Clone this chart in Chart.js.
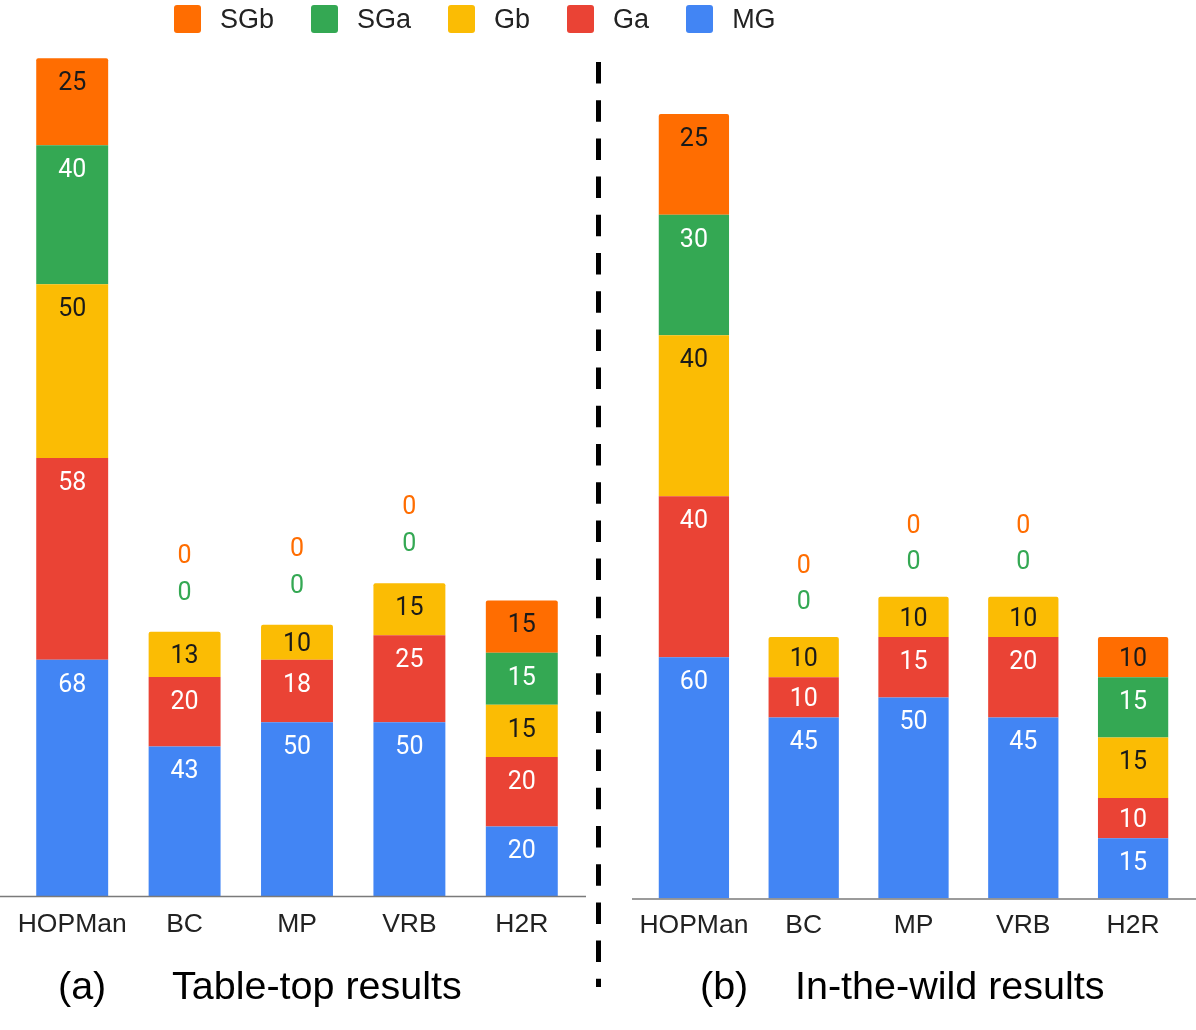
<!DOCTYPE html>
<html lang="en">
<head>
  <meta charset="UTF-8">
  <title>Table-top and in-the-wild results</title>
  <script src="https://cdn.jsdelivr.net/npm/chart.js"></script>
  <style>
    body { margin: 0; background: #fff; }
    #page {
      position: relative;
      width: 1196px;
      height: 1030px;
      overflow: hidden;
      font-family: "Liberation Sans", Arial, sans-serif;
    }
    #legend {
      position: absolute;
      left: 174px;
      top: 5px;
      display: flex;
      gap: 37px;
    }
    .item {
      display: flex;
      align-items: center;
      height: 28px;
      line-height: 28px;
      font-size: 27px;
      color: #222;
    }
    .box {
      width: 27px;
      height: 28px;
      border-radius: 3px;
      margin-right: 19px;
    }
    .cap {
      position: absolute;
      top: 966px;
      font-size: 39.5px;
      line-height: 39px;
      color: #000;
      white-space: nowrap;
    }
    #tableChart { position: absolute; left: 0; top: 0; }
    #wildChart { position: absolute; left: 632px; top: 0; }
    #divider { position: absolute; left: 0; top: 0; }
  </style>
</head>
<body>
<div id="page">
  <canvas id="tableChart" width="586" height="960"></canvas>
  <canvas id="wildChart" width="564" height="963"></canvas>

  <svg id="divider" width="1196" height="1030">
    <line x1="598.5" y1="62" x2="598.5" y2="987" stroke="#000" stroke-width="5" stroke-dasharray="21.5 16.7"/>
  </svg>

  <div id="legend"></div>

  <span class="cap" style="left:58px">(a)</span>
  <span class="cap" style="left:172px">Table-top results</span>
  <span class="cap" style="left:700px">(b)</span>
  <span class="cap" style="left:795px">In-the-wild results</span>
</div>

<script>
  // categories and series (bottom of the stack first)
  const methods = ['HOPMan', 'BC', 'MP', 'VRB', 'H2R'];
  const seriesNames = ['MG', 'Ga', 'Gb', 'SGa', 'SGb'];
  const seriesColors = ['#4285F4', '#EA4335', '#FBBC04', '#34A853', '#FF6D01'];
  const labelColors = ['#ffffff', '#ffffff', '#1a1a1a', '#ffffff', '#1a1a1a'];

  // (a) table-top
  const tableMG  = [68, 43, 50, 50, 20];
  const tableGa  = [58, 20, 18, 25, 20];
  const tableGb  = [50, 13, 10, 15, 15];
  const tableSGa = [40, 0, 0, 0, 15];
  const tableSGb = [25, 0, 0, 0, 15];

  // (b) in-the-wild
  const wildMG  = [60, 45, 50, 45, 15];
  const wildGa  = [40, 10, 15, 20, 10];
  const wildGb  = [40, 10, 10, 10, 15];
  const wildSGa = [30, 0, 0, 0, 15];
  const wildSGb = [25, 0, 0, 0, 10];

  // legend (top row shows the top of the stack first)
  const legendEl = document.getElementById('legend');
  for (let i = seriesNames.length - 1; i >= 0; i--) {
    const item = document.createElement('div');
    item.className = 'item';
    item.innerHTML = '<span class="box" style="background:' + seriesColors[i] + '"></span>' + seriesNames[i];
    legendEl.appendChild(item);
  }

  // numbers on the segments, zero values stacked above the bar
  const valueLabels = {
    id: 'valueLabels',
    afterDatasetsDraw(chart, args, opts) {
      const ctx = chart.ctx;
      const size = 25;
      const half = size * 0.355; // half the digit height, alphabetic baseline
      ctx.save();
      ctx.font = size + 'px Roboto';
      ctx.textAlign = 'center';
      ctx.textBaseline = 'alphabetic';
      const zeros = {};
      chart.data.datasets.forEach((ds, i) => {
        chart.getDatasetMeta(i).data.forEach((bar, j) => {
          const v = ds.data[j];
          if (v === 0) {
            zeros[j] = (zeros[j] || 0) + 1;
            ctx.fillStyle = ds.backgroundColor;
            ctx.fillText('0', bar.x, bar.y - opts.zeroGap - (zeros[j] - 1) * opts.zeroStep + half);
          } else {
            const h = bar.base - bar.y;
            ctx.fillStyle = ds.labelColor;
            ctx.fillText(String(v), bar.x, bar.y + Math.min(23, h / 2) + half);
          }
        });
      });
      ctx.restore();
    }
  };

  // grey line under the bars, across the whole panel
  const baseline = {
    id: 'baseline',
    afterDatasetsDraw(chart) {
      const ctx = chart.ctx;
      const y = chart.chartArea.bottom + 0.5;
      ctx.save();
      ctx.strokeStyle = '#7a7a7a';
      ctx.lineWidth = 1.5;
      ctx.beginPath();
      ctx.moveTo(0, y);
      ctx.lineTo(chart.width, y);
      ctx.stroke();
      ctx.restore();
    }
  };

  function makeChart(id, series, cfg) {
    const datasets = series.map((data, i) => ({
      label: seriesNames[i],
      data: data,
      backgroundColor: seriesColors[i],
      labelColor: labelColors[i],
      borderWidth: 0,
      borderRadius: 2,
      barPercentage: 0.8,
      categoryPercentage: 0.8
    }));

    return new Chart(document.getElementById(id), {
      type: 'bar',
      data: { labels: methods, datasets: datasets },
      plugins: [valueLabels, baseline],
      options: {
        responsive: false,
        animation: false,
        layout: { padding: { top: cfg.top, left: cfg.left, right: cfg.right, bottom: 0 } },
        plugins: {
          legend: { display: false },
          tooltip: { enabled: false },
          valueLabels: { zeroGap: cfg.zeroGap, zeroStep: cfg.zeroStep }
        },
        scales: {
          x: {
            stacked: true,
            grid: { display: false, drawTicks: false },
            border: { display: false },
            ticks: {
              padding: cfg.tickPad,
              maxRotation: 0,
              minRotation: 0,
              autoSkip: false,
              color: '#222',
              font: { family: '"Liberation Sans", Arial, sans-serif', size: 26.5 }
            },
            afterFit(scale) {
              scale.height = cfg.axisHeight;
              scale.paddingLeft = 0;
              scale.paddingRight = 0;
            }
          },
          y: {
            stacked: true,
            display: false,
            min: 0,
            max: cfg.max
          }
        }
      }
    });
  }

  makeChart('tableChart', [tableMG, tableGa, tableGb, tableSGa, tableSGb],
    { top: 27, left: 16, right: 8, max: 250, axisHeight: 64, tickPad: 13,
      zeroGap: 41, zeroStep: 37 });

  makeChart('wildChart', [wildMG, wildGa, wildGb, wildSGa, wildSGb],
    { top: 94, left: 7, right: 8, max: 200, axisHeight: 64.5, tickPad: 11,
      zeroGap: 37, zeroStep: 35.5 });
</script>
</body>
</html>
